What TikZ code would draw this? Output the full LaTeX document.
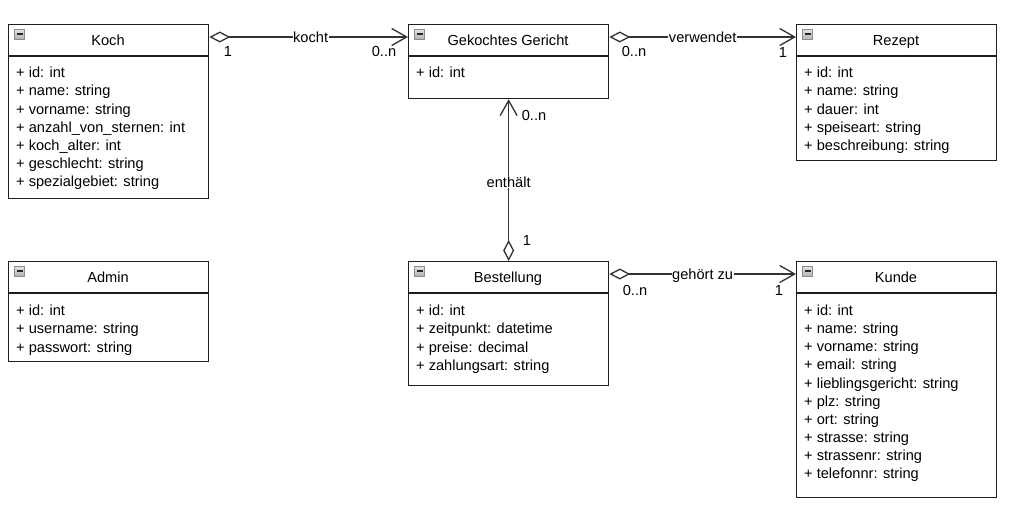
\documentclass[tikz,border=0pt]{standalone}
\usepackage{fontspec}
\setmainfont{Liberation Sans}
\usetikzlibrary{arrows.meta}
\definecolor{boxline}{HTML}{1E1E1E}
\definecolor{conline}{HTML}{333333}
\begin{document}
\begin{tikzpicture}[x=1pt,y=-1pt,
  every node/.style={font=\fontsize{14.6}{17}\selectfont, text=black},
  classbox/.style={draw=boxline, line width=1.3pt, fill=white, inner sep=0pt, anchor=north west, minimum width=200pt},
  divider/.style={draw=boxline, line width=1.3pt},
  ctitle/.style={anchor=center, inner sep=0pt, text height=10.6pt, text depth=0pt},
  attr/.style={anchor=west, inner sep=0pt, text height=10.6pt, text depth=0pt},
  icon/.style={draw=gray!90, top color=gray!20, bottom color=gray!60, line width=0.7pt, minimum width=10pt, minimum height=10pt, inner sep=0pt,
    path picture={\draw[black!85, line width=1.5pt] ([xshift=2pt]path picture bounding box.west) -- ([xshift=-2pt]path picture bounding box.east);}},
  assoc/.style={draw=conline, line width=1.3pt, {Diamond[open, length=21pt, width=11pt]}-{Straight Barb[length=15pt, width=17pt]}},
  lbl/.style={fill=white, inner sep=0.5pt, text height=10.6pt, text depth=0pt},
  mult/.style={anchor=center, inner sep=0pt, text height=10.6pt, text depth=0pt}
]
\useasboundingbox[fill=white] (0,0) rectangle (1034,522);

% ---------- Koch ----------
\node[classbox, minimum height=174pt] (koch) at (8,24) {};
\draw[divider] ([yshift=-32pt]koch.north west) -- ([yshift=-32pt]koch.north east);
\node[icon] (kochI) at (19.5,34) {};
\node[ctitle] (kochT) at (108,40) {Koch};
\foreach \t [count=\i from 0] in {{+ id: int},{+ name: string},{+ vorname: string},{+ anzahl\_von\_sternen: int},{+ koch\_alter: int},{+ geschlecht: string},{+ spezialgebiet: string}}
  \node[attr] (koch\i) at (16,72.5+18.1*\i) {\t};

% ---------- Gekochtes Gericht ----------
\node[classbox, minimum height=74pt] (gericht) at (408,24) {};
\draw[divider] ([yshift=-32pt]gericht.north west) -- ([yshift=-32pt]gericht.north east);
\node[icon] (gerichtI) at (419.5,34) {};
\node[ctitle] (gerichtT) at (508,40) {Gekochtes Gericht};
\node[attr] (gericht0) at (416,72.5) {+ id: int};

% ---------- Rezept ----------
\node[classbox, minimum height=136pt] (rezept) at (796,24) {};
\draw[divider] ([yshift=-32pt]rezept.north west) -- ([yshift=-32pt]rezept.north east);
\node[icon] (rezeptI) at (807.5,34) {};
\node[ctitle] (rezeptT) at (896,40) {Rezept};
\foreach \t [count=\i from 0] in {{+ id: int},{+ name: string},{+ dauer: int},{+ speiseart: string},{+ beschreibung: string}}
  \node[attr] (rezept\i) at (804,72.5+18.1*\i) {\t};

% ---------- Admin ----------
\node[classbox, minimum height=100pt] (admin) at (8,261) {};
\draw[divider] ([yshift=-32pt]admin.north west) -- ([yshift=-32pt]admin.north east);
\node[icon] (adminI) at (19.5,271) {};
\node[ctitle] (adminT) at (108,277) {Admin};
\foreach \t [count=\i from 0] in {{+ id: int},{+ username: string},{+ passwort: string}}
  \node[attr] (admin\i) at (16,310.5+18.1*\i) {\t};

% ---------- Bestellung ----------
\node[classbox, minimum height=124pt] (best) at (408,261) {};
\draw[divider] ([yshift=-32pt]best.north west) -- ([yshift=-32pt]best.north east);
\node[icon] (bestI) at (419.5,271) {};
\node[ctitle] (bestT) at (508,277) {Bestellung};
\foreach \t [count=\i from 0] in {{+ id: int},{+ zeitpunkt: datetime},{+ preise: decimal},{+ zahlungsart: string}}
  \node[attr] (best\i) at (416,310.5+18.1*\i) {\t};

% ---------- Kunde ----------
\node[classbox, minimum height=236pt] (kunde) at (796,261) {};
\draw[divider] ([yshift=-32pt]kunde.north west) -- ([yshift=-32pt]kunde.north east);
\node[icon] (kundeI) at (807.5,271) {};
\node[ctitle] (kundeT) at (896,277) {Kunde};
\foreach \t [count=\i from 0] in {{+ id: int},{+ name: string},{+ vorname: string},{+ email: string},{+ lieblingsgericht: string},{+ plz: string},{+ ort: string},{+ strasse: string},{+ strassenr: string},{+ telefonnr: string}}
  \node[attr] (kunde\i) at (804,310.5+18.05*\i) {\t};

% ---------- Connectors ----------
\draw[assoc] ([yshift=-13pt]koch.north east) -- node[lbl, pos=0.51] (lkocht) {kocht} ([yshift=-13pt]gericht.north west);
\draw[assoc] ([yshift=-13pt]gericht.north east) -- node[lbl] (lverw) {verwendet} ([yshift=-13pt]rezept.north west);
\draw[assoc] (best.north) -- node[lbl, pos=0.49] (lenth) {enthält} (gericht.south);
\draw[assoc] ([yshift=-13pt]best.north east) -- node[lbl] (lgeh) {gehört zu} ([yshift=-13pt]kunde.north west);

% ---------- Multiplicities ----------
\node[mult] (m1) at (228,51) {1};
\node[mult] (m2) at (384,51) {0..n};
\node[mult] (m3) at (634,51) {0..n};
\node[mult] (m4) at (783,52) {1};
\node[mult] (m5) at (534,115) {0..n};
\node[mult] (m6) at (527,240) {1};
\node[mult] (m7) at (635,290) {0..n};
\node[mult] (m8) at (779,290) {1};
\end{tikzpicture}
\end{document}
